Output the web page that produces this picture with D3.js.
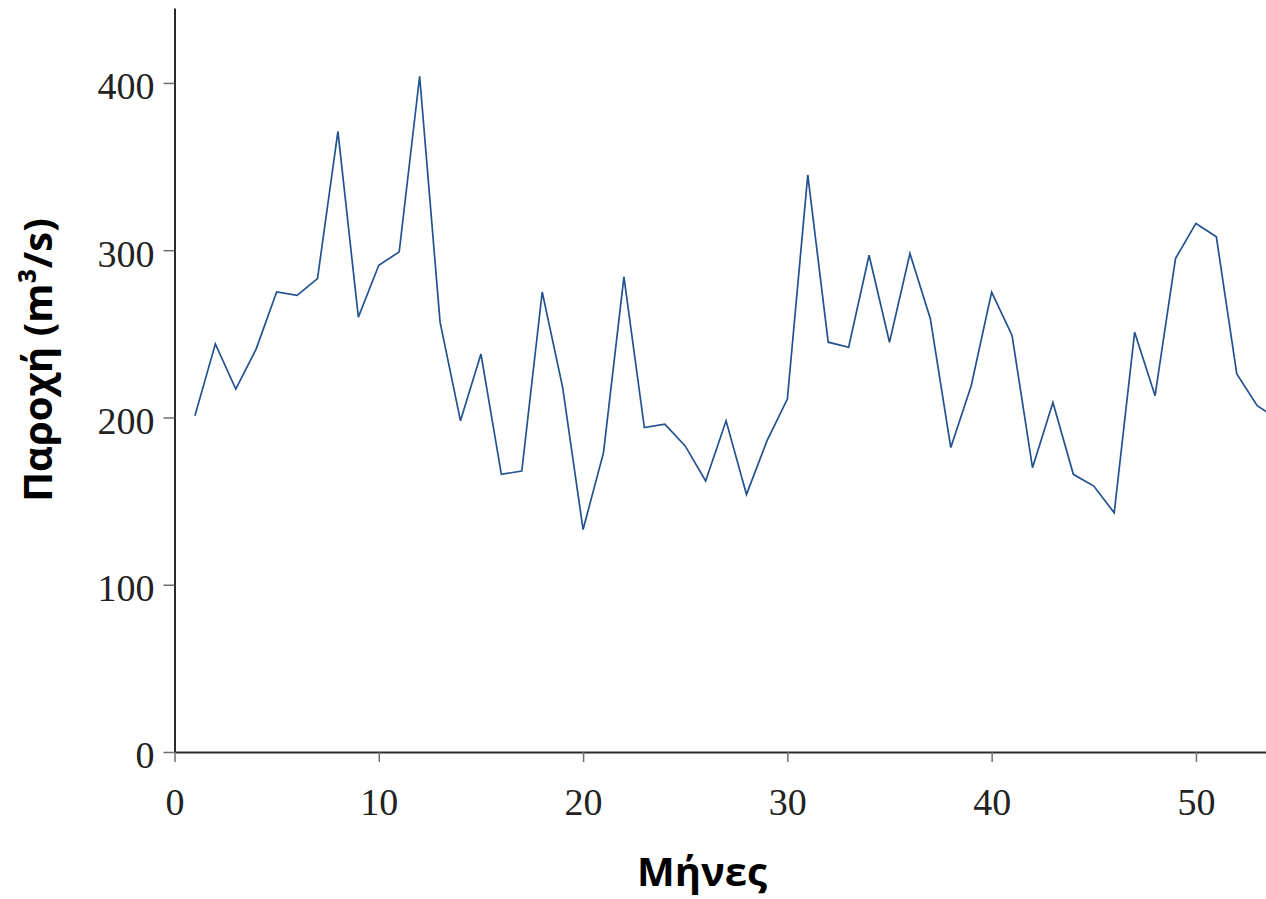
<!DOCTYPE html>
<html>
<head>
<meta charset="utf-8">
<script src="https://cdn.jsdelivr.net/npm/d3@7"></script>
<style>
  html, body { margin: 0; padding: 0; background: #ffffff; }
  svg { display: block; }
</style>
</head>
<body>
<svg id="chart" width="1266" height="899"></svg>
<script>
// Monthly discharge series (m³/s)
const months = [1, 2, 3, 4, 5, 6, 7, 8, 9, 10,
  11, 12, 13, 14, 15, 16, 17, 18, 19, 20,
  21, 22, 23, 24, 25, 26, 27, 28, 29, 30,
  31, 32, 33, 34, 35, 36, 37, 38, 39, 40,
  41, 42, 43, 44, 45, 46, 47, 48, 49, 50,
  51, 52, 53, 54];
const discharge = [201, 244, 217, 241, 275, 273, 283, 371, 260, 291,
  299, 404, 257, 198, 238, 166, 168, 275, 218, 133,
  179, 284, 194, 196, 183, 162, 198, 154, 186, 211,
  345, 245, 242, 297, 245, 298, 259, 182, 219, 275,
  249, 170, 209, 166, 159, 143, 251, 213, 295, 316,
  308, 226, 207, 199];
const xTicks = [0, 10, 20, 30, 40, 50];
const yTicks = [0, 100, 200, 300, 400];
const xTitle = "Μήνες";
const yTitle = "Παροχή (m³/s)";

const svg = d3.select("#chart");
const plotLeft = 174.5, plotRight = 1266, plotTop = 8, plotBottom = 752;

const x = d3.scaleLinear().domain([0, 53.43]).range([plotLeft, plotRight]);
const y = d3.scaleLinear().domain([0, 444.8]).range([plotBottom, plotTop]);

svg.append("defs").append("clipPath").attr("id", "plot-clip")
  .append("rect")
  .attr("x", plotLeft).attr("y", plotTop)
  .attr("width", plotRight - plotLeft).attr("height", plotBottom - plotTop);

const tickFont = "'Liberation Serif', 'Times New Roman', serif";

// y axis
const yAxis = svg.append("g")
  .attr("transform", `translate(${plotLeft},0)`)
  .call(d3.axisLeft(y).tickValues(yTicks).tickSize(11).tickPadding(9).tickSizeOuter(0));
yAxis.select(".domain").attr("stroke", "#2b2b2b").attr("stroke-width", 2);
yAxis.selectAll(".tick line").attr("stroke", "#6e6e6e").attr("stroke-width", 1.5);
yAxis.selectAll(".tick text")
  .attr("font-family", tickFont).attr("font-size", 38)
  .attr("fill", "#222").attr("dy", "0.42em");

// x axis
const xAxis = svg.append("g")
  .attr("transform", `translate(0,${plotBottom})`)
  .call(d3.axisBottom(x).tickValues(xTicks).tickSize(10).tickPadding(26).tickSizeOuter(0));
xAxis.select(".domain").attr("stroke", "#2b2b2b").attr("stroke-width", 2);
xAxis.selectAll(".tick line").attr("stroke", "#6e6e6e").attr("stroke-width", 1.5);
xAxis.selectAll(".tick text")
  .attr("font-family", tickFont).attr("font-size", 38)
  .attr("fill", "#222");

// discharge line
const line = d3.line()
  .x((d, i) => x(months[i]))
  .y(d => y(d));

svg.append("path")
  .datum(discharge)
  .attr("clip-path", "url(#plot-clip)")
  .attr("fill", "none")
  .attr("stroke", "#22528f")
  .attr("stroke-width", 1.7)
  .attr("stroke-linejoin", "miter")
  .attr("d", line);

// axis titles
const titleFont = "'Open Sans', 'Noto Sans', sans-serif";
svg.append("text")
  .attr("x", 702).attr("y", 886)
  .attr("text-anchor", "middle")
  .attr("font-family", titleFont).attr("font-weight", 700)
  .attr("font-size", 40).attr("fill", "#000")
  .text(xTitle);

svg.append("text")
  .attr("transform", "translate(52,360) rotate(-90)")
  .attr("text-anchor", "middle")
  .attr("font-family", titleFont).attr("font-weight", 700)
  .attr("font-size", 40).attr("fill", "#000")
  .text(yTitle);
</script>
</body>
</html>
